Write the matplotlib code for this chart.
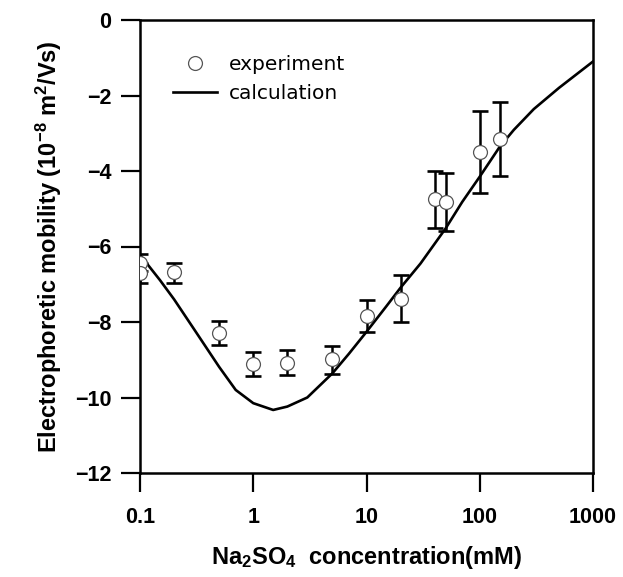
import matplotlib
matplotlib.use('Agg')
import matplotlib.pyplot as plt
from matplotlib.ticker import FixedLocator, FixedFormatter, NullLocator

# ---- data ----
conc_exp = [0.1, 0.1, 0.2, 0.5, 1, 2, 5, 10, 20, 40, 50, 100, 150]
mob_exp = [-6.45, -6.69, -6.68, -8.28, -9.11, -9.08, -8.98, -7.84, -7.40, -4.75, -4.83, -3.49, -3.16]
err_up = [0.25, 0.25, 0.23, 0.31, 0.32, 0.34, 0.34, 0.41, 0.65, 0.76, 0.79, 1.08, 0.98]
err_down = [0.20, 0.29, 0.28, 0.33, 0.32, 0.32, 0.40, 0.42, 0.61, 0.77, 0.76, 1.08, 0.97]

conc_calc = [0.1, 0.15, 0.2, 0.3, 0.5, 0.7, 1, 1.5, 2, 3, 5, 7, 10, 15, 20, 30, 50,
             70, 100, 150, 200, 300, 500, 700, 1000]
mob_calc = [-6.22, -6.89, -7.40, -8.19, -9.19, -9.80, -10.15, -10.33, -10.24, -10.00,
            -9.36, -8.84, -8.26, -7.58, -7.09, -6.45, -5.52, -4.82, -4.15, -3.36,
            -2.91, -2.36, -1.80, -1.46, -1.10]

x_ticks = [0.1, 1, 10, 100, 1000]
x_tick_labels = ['0.1', '1', '10', '100', '1000']
y_ticks = [0, -2, -4, -6, -8, -10, -12]
y_tick_labels = ['0', '\u22122', '\u22124', '\u22126', '\u22128', '\u221210', '\u221212']

plt.rcParams['mathtext.default'] = 'regular'
plt.rcParams['font.family'] = ['Liberation Sans', 'DejaVu Sans']

fig = plt.figure(figsize=(6.23, 5.77), dpi=100)
ax = fig.add_axes([140/623, 104/577, 453/623, 453/577])

ax.plot(conc_calc, mob_calc, color='black', lw=1.9, zorder=2, label='calculation')
ax.errorbar(conc_exp, mob_exp, yerr=[err_down, err_up], fmt='none', ecolor='black',
            elinewidth=1.8, capsize=5.8, capthick=1.9, zorder=3)
ax.plot(conc_exp, mob_exp, ls='none', marker='o', ms=10, mfc='white', mec='#555555',
        mew=0.9, zorder=4, label='experiment')

ax.set_xscale('log')
ax.set_xlim(0.1, 1000)
ax.set_ylim(-12, 0)
ax.xaxis.set_major_locator(FixedLocator(x_ticks))
ax.xaxis.set_major_formatter(FixedFormatter(x_tick_labels))
ax.xaxis.set_minor_locator(NullLocator())
ax.yaxis.set_major_locator(FixedLocator(y_ticks))
ax.yaxis.set_major_formatter(FixedFormatter(y_tick_labels))

for s in ax.spines.values():
    s.set_linewidth(1.8)
ax.tick_params(axis='both', which='major', direction='out', length=13.7, width=1.6,
               labelsize=15.5, top=False, right=False)
ax.tick_params(axis='x', pad=11)
ax.tick_params(axis='y', pad=7)
for lab in ax.get_xticklabels() + ax.get_yticklabels():
    lab.set_fontweight('bold')

ax.set_xlabel(r'Na$_2$SO$_4$  concentration(mM)', fontsize=17, fontweight='bold', labelpad=11)
ax.set_ylabel(r'Electrophoretic mobility (10$^{-8}$ m$^2$/Vs)', fontsize=17,
              fontweight='bold', labelpad=8)

h, l = ax.get_legend_handles_labels()
leg = ax.legend([h[1], h[0]], [l[1], l[0]], loc='upper left',
                bbox_to_anchor=((173-140)/453, (473-55)/453), frameon=False,
                borderpad=0, borderaxespad=0, handlelength=2.2, handletextpad=0.55,
                labelspacing=0.5, prop={'family': 'DejaVu Sans', 'size': 14.5})

fig.savefig('out.png', dpi=100)
